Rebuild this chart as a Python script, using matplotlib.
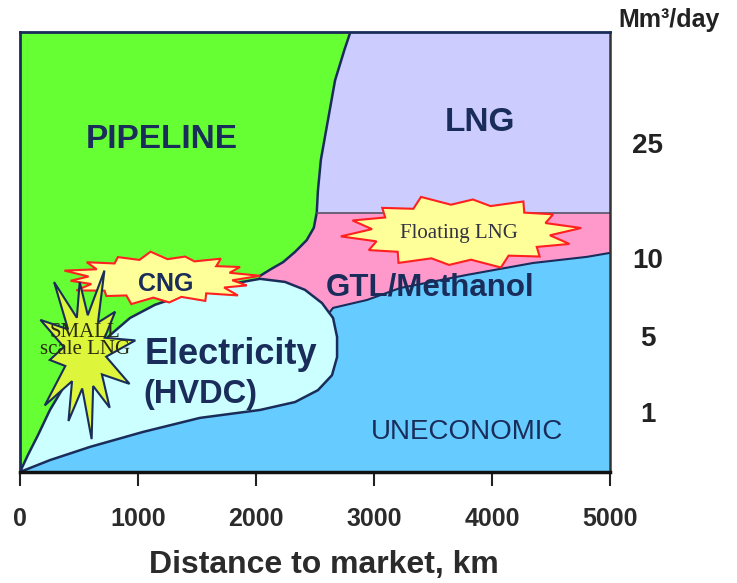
import numpy as np
import matplotlib
matplotlib.use("Agg")
import matplotlib.pyplot as plt

plt.rcParams['font.family'] = ['Liberation Sans', 'DejaVu Sans']

# boundary between pipeline (left) and LNG / GTL (right), top to bottom
pipe_x = [2800, 2750, 2670, 2610, 2550, 2525, 2515, 2490, 2430, 2330, 2230, 2120, 2030]
pipe_y = [100, 96, 89, 80, 71, 64, 59, 55.5, 52.7, 50, 47.7, 46, 44.5]

# electricity (HVDC) region: upper edge from origin, then right side and lower edge back
elec_top_x = [0, 68, 153, 254, 381, 551, 763, 932, 1144, 1441, 1780, 2034]
elec_top_y = [0, 3.9, 8.4, 14.1, 19.8, 25.5, 31.1, 35, 38, 40.7, 42.7, 43.9]
elec_low_x = [2246, 2415, 2559, 2653, 2687, 2687, 2644, 2525, 2331, 2034, 1525, 1042, 593, 254, 0]
elec_low_y = [43.2, 41.4, 38.4, 35, 30.7, 26.1, 22, 18.6, 15.9, 14.1, 12.3, 9.1, 5.7, 2.7, 0]

# GTL / uneconomic boundary, left to right
gtl_x = [2627, 2653, 2941, 3220, 3788, 4347, 4805, 5000]
gtl_y = [36.4, 37.3, 39.1, 41.8, 44.8, 47.5, 48.9, 49.8]
lng_floor = 58.9

# capacity labels on the right
cap_labels = ['25', '10', '5', '1']
cap_pos = [74.8, 48.6, 30.9, 13.6]

dist_ticks = [0, 1000, 2000, 3000, 4000, 5000]

navy = '#1a2d5a'


def star(cx, cy, rx, ry, spikes, inner):
    n = len(spikes)
    t = np.linspace(0, 2 * np.pi, 2 * n, endpoint=False) + np.pi / (2 * n)
    r = np.empty(2 * n)
    r[0::2] = spikes
    r[1::2] = inner
    return np.column_stack([cx + rx * r * np.cos(t), cy + ry * r * np.sin(t)])


fig = plt.figure(figsize=(7.37, 5.83), dpi=100)
ax = fig.add_axes([0.0271, 0.1904, 0.8006, 0.7547])
ax.set_xlim(0, 5000)
ax.set_ylim(0, 100)
ax.set_facecolor('#66CCFF')

# pink GTL/Methanol band
px = [5000, 5000] + gtl_x[::-1] + [0, 0]
py = [100, gtl_y[-1]] + gtl_y[::-1] + [37, 100]
ax.fill(px, py, color='#FF99CC', lw=0, zorder=1)

# LNG
lx = pipe_x[:7] + [5000, 5000]
ly = pipe_y[:7] + [lng_floor, 100]
ax.fill(lx, ly, color='#CCCCFF', lw=0, zorder=1)

# pipeline
gx = [0] + pipe_x + elec_top_x[::-1]
gy = [100] + pipe_y + elec_top_y[::-1]
ax.fill(gx, gy, color='#66FF33', lw=0, zorder=1)

# electricity
ex = elec_top_x + elec_low_x
ey = elec_top_y + elec_low_y
ax.fill(ex, ey, color='#CCFFFF', lw=0, zorder=1)

# boundary lines
ax.plot(pipe_x, pipe_y, color=navy, lw=1.8, zorder=2)
ax.plot(ex, ey, color=navy, lw=1.8, zorder=2)
ax.plot(gtl_x, gtl_y, color=navy, lw=1.5, zorder=2)
ax.plot([pipe_x[6], 5000], [lng_floor, lng_floor], color='#555566', lw=1.2, zorder=2)

# stars
cng = star(1190, 44, 850, 6.1,
           [1.0, 0.9, 0.95, 0.85, 1.0, 0.9, 0.95, 1.0, 0.9, 0.95, 0.85, 1.0, 0.9, 0.95, 1.0, 0.9], 0.72)
ax.fill(cng[:, 0], cng[:, 1], facecolor='#FFFF99', edgecolor='#FF2020', lw=1.5, zorder=3)

flng = star(3737, 54.5, 1025, 8.5,
            [1.0, 0.9, 0.97, 0.88, 1.0, 0.92, 0.95, 1.0, 0.9, 0.97, 0.88, 1.0, 0.92, 0.95], 0.74)
ax.fill(flng[:, 0], flng[:, 1], facecolor='#FFFF99', edgecolor='#FF2020', lw=1.5, zorder=3)

small = star(551, 27.3, 430, 20,
             [1.0, 0.75, 1.0, 0.8, 1.0, 0.95, 0.7, 1.0, 0.85, 1.0, 0.8, 0.95], 0.42)
ax.fill(small[:, 0], small[:, 1], facecolor='#DDF53A', edgecolor=navy, lw=1.5, zorder=3)

# region labels
ax.text(1203, 75.6, 'PIPELINE', color=navy, fontsize=24, fontweight='bold', ha='center', va='center', zorder=4)
ax.text(3898, 79.5, 'LNG', color=navy, fontsize=24, fontweight='bold', ha='center', va='center', zorder=4)
ax.text(3475, 42, 'GTL/Methanol', color=navy, fontsize=22.5, fontweight='bold', ha='center', va='center', zorder=4)
ax.text(1788, 26.6, 'Electricity', color=navy, fontsize=26, fontweight='bold', ha='center', va='center', zorder=4)
ax.text(1525, 17.5, '(HVDC)', color=navy, fontsize=23.5, fontweight='bold', ha='center', va='center', zorder=4)
ax.text(3788, 9.1, 'UNECONOMIC', color=navy, fontsize=20, ha='center', va='center', zorder=4)
ax.text(1237, 42.7, 'CNG', color=navy, fontsize=18, fontweight='bold', ha='center', va='center', zorder=5)
ax.text(3720, 54.1, 'Floating LNG', color='#333344', fontsize=15, family='Liberation Serif',
        ha='center', va='center', zorder=5)
ax.text(551, 29.8, 'SMALL\nscale LNG', color='#2a2a10', fontsize=15, family='Liberation Serif',
        ha='center', va='center', linespacing=0.85, zorder=5)

# axes styling
for side in ['top', 'left']:
    ax.spines[side].set_color(navy)
    ax.spines[side].set_linewidth(2)
ax.spines['right'].set_color('#333333')
ax.spines['right'].set_linewidth(1.8)
ax.spines['bottom'].set_color('#111111')
ax.spines['bottom'].set_linewidth(2.5)
for s in ax.spines.values():
    s.set_zorder(6)

ax.set_xticks(dist_ticks)
ax.set_xticklabels([str(t) for t in dist_ticks], fontsize=18, fontweight='bold', color='#2b2b2b')
ax.tick_params(axis='x', direction='out', length=10, width=1.5, color='#222222', pad=15)

ax.yaxis.tick_right()
ax.set_yticks(cap_pos)
ax.set_yticklabels(cap_labels, fontsize=20, fontweight='bold', color='#222222', ha='center')
ax.tick_params(axis='y', length=0, pad=27)

ax.set_xlabel('Distance to market, km', fontsize=23, fontweight='bold', color='#2b2b2b', labelpad=14, x=0.515)
fig.text(0.9077, 0.9657, 'Mm³/day', fontsize=18, fontweight='bold', color='#222222', ha='center', va='center')

fig.savefig('out.png', dpi=100)
